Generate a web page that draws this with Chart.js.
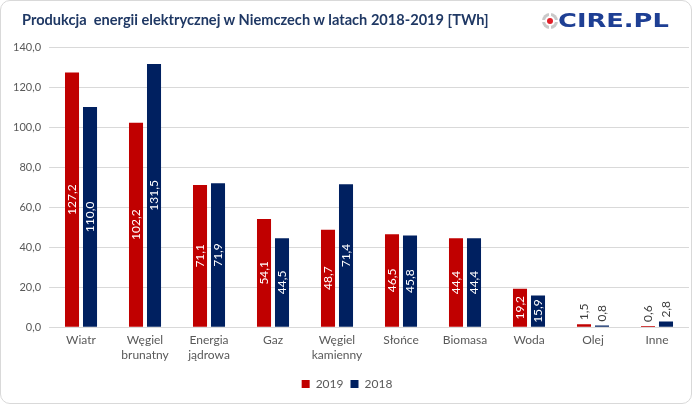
<!DOCTYPE html>
<html lang="pl">
<head>
<meta charset="utf-8">
<script src="https://cdn.jsdelivr.net/npm/chart.js@4.4.0/dist/chart.umd.min.js"></script>
<style>
  html, body { margin: 0; padding: 0; background: #fff; }
  #ramka { position: relative; width: 690px; height: 402px; border: 1px solid #d9d9d9; border-radius: 10px; overflow: hidden; }
  #tytul { position: absolute; left: 21px; top: 10px; font: bold 14.6px 'Lato', sans-serif; color: #1f3864; white-space: pre; }
  #kolo { position: absolute; left: 541px; top: 12px; width: 16px; height: 16px; border-radius: 50%;
          background: conic-gradient(#fff 0 6deg, #c9c9c9 6deg 84deg, #fff 84deg 96deg, #c9c9c9 96deg 174deg, #fff 174deg 186deg, #c9c9c9 186deg 264deg, #fff 264deg 276deg, #c9c9c9 276deg 354deg, #fff 354deg); }
  #kolo::after { content: ''; position: absolute; left: 3px; top: 3px; width: 10px; height: 10px; border-radius: 50%; background: #fff; }
  #kolo span { position: absolute; left: 5px; top: 5px; width: 6px; height: 6px; border-radius: 50%; background: #e0202a; z-index: 1; }
  #napis { position: absolute; left: 557px; top: 8px; font: bold 19px 'DejaVu Sans', sans-serif; color: #1e3f94; transform-origin: 0 50%; white-space: nowrap; }
  #wykres { position: absolute; left: 0; top: 0; }
</style>
</head>
<body>
<div id="ramka">
  <canvas id="wykres" width="690" height="402"></canvas>
  <div id="tytul">Produkcja  energii elektrycznej w Niemczech w latach 2018-2019 [TWh]</div>
  <div id="kolo"><span></span></div>
  <div id="napis">CIRE.PL</div>
</div>
<script>
// kategorie i dane [TWh]
const kategorie = [['Wiatr'], ['Węgiel', 'brunatny'], ['Energia', 'jądrowa'], ['Gaz'], ['Węgiel', 'kamienny'], ['Słońce'], ['Biomasa'], ['Woda'], ['Olej'], ['Inne']];
const dane2019 = [127.2, 102.2, 71.1, 54.1, 48.7, 46.5, 44.4, 19.2, 1.5, 0.6];
const dane2018 = [110.0, 131.5, 71.9, 44.5, 71.4, 45.8, 44.4, 15.9, 0.8, 2.8];
const osY = { min: 0, max: 140, krok: 20 };

function formatuj(v) { return v.toFixed(1).replace('.', ','); }

// logo rozciągnięte do szerokości oryginału
const napis = document.getElementById('napis');
napis.style.transform = 'scaleX(' + (111 / napis.offsetWidth) + ')';

/** Etykiety wartości obrócone pionowo */
const etykiety = {
  id: 'etykiety',
  afterDatasetsDraw(chart) {
    const ctx = chart.ctx;
    chart.data.datasets.forEach((ds, i) => {
      chart.getDatasetMeta(i).data.forEach((bar, j) => {
        const v = ds.data[j];
        ctx.save();
        ctx.font = '12px Lato, sans-serif';
        ctx.textBaseline = 'middle';
        if (v >= 10) {
          ctx.translate(bar.x, (bar.y + bar.base) / 2);
          ctx.rotate(-Math.PI / 2);
          ctx.textAlign = 'center';
          ctx.fillStyle = '#ffffff';
        } else {
          ctx.translate(bar.x, bar.y - 4);
          ctx.rotate(-Math.PI / 2);
          ctx.textAlign = 'left';
          ctx.fillStyle = '#404040';
        }
        ctx.fillText(formatuj(v), 0, 0);
        ctx.restore();
      });
    });
  }
};

new Chart(document.getElementById('wykres'), {
  type: 'bar',
  data: {
    labels: kategorie,
    datasets: [
      { label: '2019', data: dane2019, backgroundColor: '#c00000', barPercentage: 0.78, categoryPercentage: 0.5625 },
      { label: '2018', data: dane2018, backgroundColor: '#002060', barPercentage: 0.78, categoryPercentage: 0.5625 }
    ]
  },
  options: {
    responsive: false,
    animation: false,
    layout: { padding: { top: 46, right: 2, left: 4, bottom: 3 } },
    plugins: {
      legend: {
        position: 'bottom',
        labels: { boxWidth: 8, boxHeight: 8, padding: 7, color: '#595959', font: { family: 'Lato', size: 12 } }
      },
      tooltip: { enabled: false }
    },
    scales: {
      x: {
        grid: { display: false },
        border: { display: false },
        afterFit: s => { s.height += 11; },
        ticks: { color: '#595959', font: { family: 'Lato', size: 12 }, padding: -2, maxRotation: 0, autoSkip: false }
      },
      y: {
        min: osY.min, max: osY.max,
        grid: { color: '#d9d9d9', drawTicks: false },
        border: { display: false },
        ticks: { stepSize: osY.krok, padding: 8, color: '#595959', font: { family: 'Lato', size: 11 }, callback: v => formatuj(v) }
      }
    }
  },
  plugins: [etykiety]
});
</script>
</body>
</html>
